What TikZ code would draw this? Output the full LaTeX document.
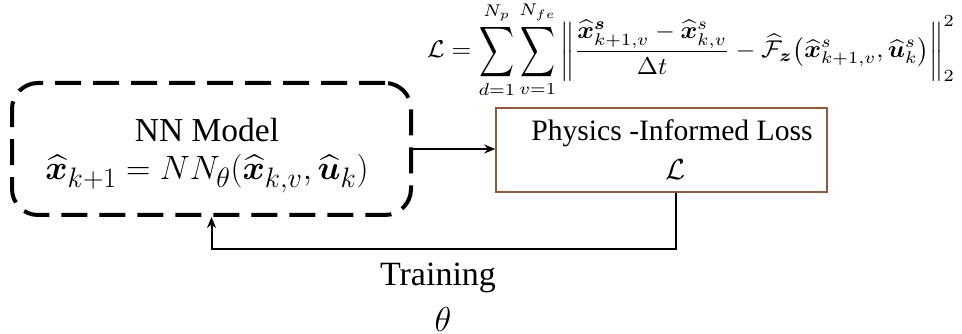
\documentclass[tikz,border=0pt]{standalone}
\usepackage{fontspec}
\setmainfont{Liberation Serif}
\usepackage{amsmath}
\usepackage{bm}
\usepackage{graphicx}
\usetikzlibrary{arrows.meta,calc}
\definecolor{lossbrown}{RGB}{140,90,60}
\newcommand{\BSum}{\mathop{\vcenter{\hbox{\scalebox{0.95}[1.45]{$\displaystyle\sum$}}}}\limits}
\tikzset{
  txt/.style={inner sep=0pt, font=\fontsize{31}{36}\selectfont},
  nnbox/.style={draw=black, line width=4pt, dash pattern=on 26pt off 12pt, rounded corners=26pt, minimum width=399pt, minimum height=132pt, inner sep=0pt},
  lossbox/.style={draw=lossbrown, line width=1.5pt, minimum width=331pt, minimum height=84pt, inner sep=0pt},
  conn/.style={draw=black, line width=2pt, -{Stealth[length=11pt,width=9pt]}}
}
\begin{document}
\begin{tikzpicture}[x=1pt,y=-1pt]
\useasboundingbox (0,0) rectangle (962,334);
\node[nnbox] (nn) at (211.5,149) {};
\node[txt, font=\fontsize{33.5}{38}\selectfont] (nnlabel) at (207,130) {NN Model};
\node[txt] (nneq) at (207,174) {\resizebox{323pt}{!}{$\widehat{\bm{x}}_{k+1} = NN_{\theta}(\widehat{\bm{x}}_{k,v}, \widehat{\bm{u}}_{k})$}};
\node[lossbox] (loss) at (661.5,150) {};
\node[txt, font=\fontsize{29.6}{34}\selectfont] (losslabel) at (672,133) {Physics -Informed Loss};
\node[txt] (lossL) at (675,170) {\resizebox{20pt}{!}{$\mathcal{L}$}};
\node[inner sep=0pt] (formula) at (691,50) {\resizebox*{528pt}{96pt}{$\displaystyle \mathcal{L} = \BSum_{d=1}^{N_p}\BSum_{v=1}^{N_{fe}} \left\| \frac{\widehat{\bm{x}}^{\bm{s}}_{k+1,v} - \widehat{\bm{x}}^{s}_{k,v}}{\Delta t} - \widehat{\mathcal{F}}_{\bm{z}}\bigl(\widehat{\bm{x}}^{s}_{k+1,v}, \widehat{\bm{u}}^{s}_{k}\bigr) \right\|_2^2$}};
\node[txt, font=\fontsize{34}{39}\selectfont] (train) at (438,278) {Training};
\node[txt] (theta) at (443,319) {\resizebox{!}{24pt}{$\theta$}};
\coordinate (fb) at (676,249);
\draw[conn] (nn.east) -- (nn.east -| loss.west);
\draw[conn] (loss.south -| fb) -- (fb) -| (nn.south);
\end{tikzpicture}
\end{document}
